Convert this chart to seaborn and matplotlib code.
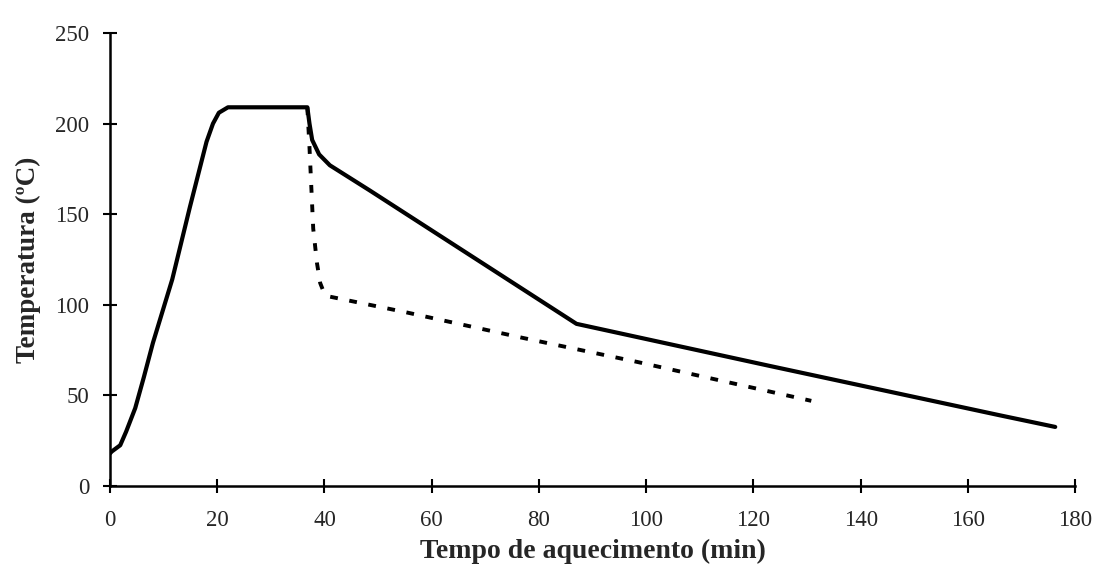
import matplotlib
matplotlib.use("Agg")
import matplotlib.pyplot as plt
import pandas as pd
import seaborn as sns

# --- data ---

# solid curve: heating, plateau, slow cooling
solid_time = [0, 0.3, 1.9, 3.0, 4.7, 6.3, 8.0, 11.6, 14.9, 18.0, 19.2, 20.3, 22.0,
              36.8, 37.2, 37.7, 39.0, 41.0, 48.5, 87.0, 123.0, 166.0, 176.3]
solid_temp = [18, 19, 22.5, 30, 43, 60, 79, 114, 154, 190, 200, 206, 209,
              209, 200, 191, 183, 177, 163, 89.5, 66.3, 39, 32.6]

# dashed curve: fast cooling
dash_time = [36.8, 37.2, 37.9, 38.6, 39.2, 40.0, 41.0, 55.0, 76.9, 98.3, 130.8]
dash_temp = [209, 187, 142, 123, 112, 106, 104.5, 96, 81.8, 68.5, 47]

x_ticks = [0, 20, 40, 60, 80, 100, 120, 140, 160, 180]
y_ticks = [0, 50, 100, 150, 200, 250]

solid = pd.DataFrame({"t": solid_time, "T": solid_temp})
dashed = pd.DataFrame({"t": dash_time, "T": dash_temp})

# --- plot ---

sns.set_style("ticks")
plt.rcParams["font.family"] = ["Liberation Serif", "DejaVu Serif"]

fig = plt.figure(figsize=(10.96, 5.79), dpi=100)
ax = fig.add_axes([0.1004, 0.1606, 0.8805, 0.7824])

sns.lineplot(data=solid, x="t", y="T", sort=False, color="black",
             linewidth=3.0, ax=ax)
sns.lineplot(data=dashed, x="t", y="T", sort=False, color="black",
             linewidth=2.8, ax=ax)
ax.lines[-1].set_dashes([2.0, 3.0])

ax.set_xlim(0, 180)
ax.set_ylim(0, 250)
ax.set_xticks(x_ticks)
ax.set_yticks(y_ticks)
ax.tick_params(direction="inout", length=10, width=1.5, labelsize=16.5,
               color="black")
ax.tick_params(axis="x", pad=12)
ax.tick_params(axis="y", pad=10)

for side in ["top", "right"]:
    ax.spines[side].set_visible(False)
for side in ["left", "bottom"]:
    ax.spines[side].set_linewidth(1.8)
    ax.spines[side].set_color("black")

ax.set_xlabel("Tempo de aquecimento (min)", fontsize=20, fontweight="bold",
              labelpad=6)
ax.set_ylabel("Temperatura (ºC)", fontsize=19.5, fontweight="bold",
              labelpad=10)

fig.savefig("out.png", dpi=100)
